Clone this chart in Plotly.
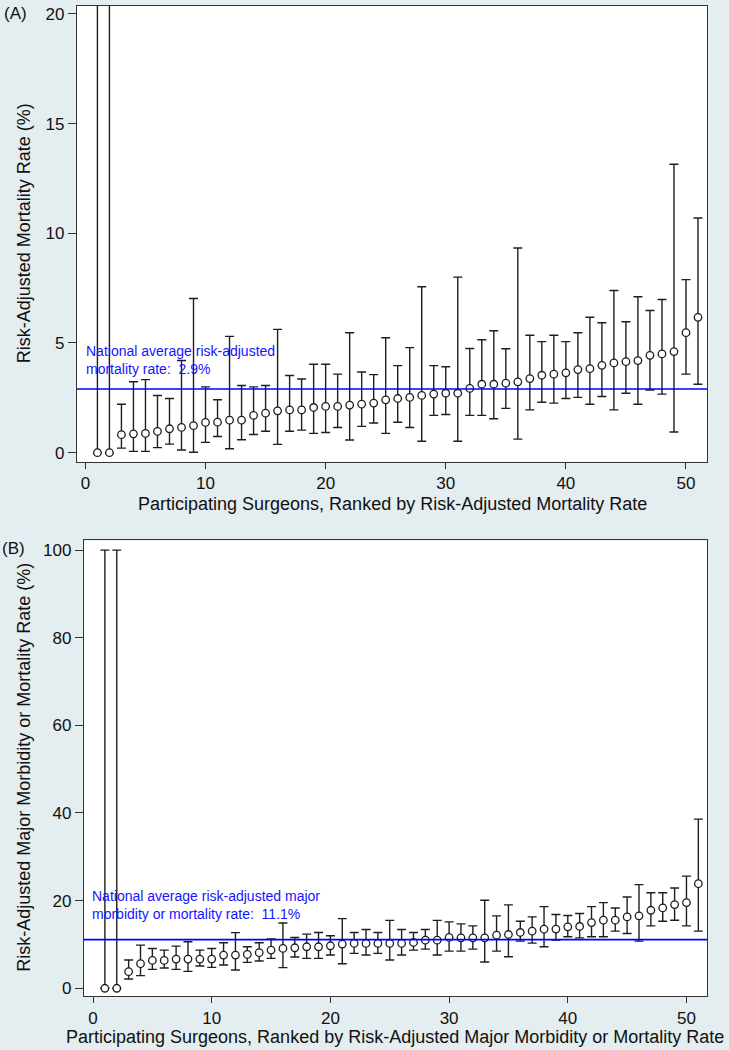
import plotly.graph_objects as go

# ---------------- data ----------------
surgeon_rank = list(range(1, 52))

mort_rate = [0, 0, 0.82, 0.86, 0.88, 0.97, 1.09, 1.15, 1.23, 1.38, 1.39, 1.48, 1.48, 1.70, 1.80,
             1.91, 1.95, 1.95, 2.06, 2.11, 2.11, 2.17, 2.21, 2.26, 2.41, 2.47, 2.52, 2.61, 2.67, 2.71,
             2.71, 2.93, 3.12, 3.12, 3.17, 3.23, 3.38, 3.53, 3.58, 3.64, 3.79, 3.83, 3.98, 4.09, 4.15,
             4.20, 4.44, 4.50, 4.61, 5.47, 6.17]
mort_upper = [100, 100, 2.21, 3.23, 3.33, 2.61, 2.47, 4.20, 7.03, 3.00, 2.41, 5.30, 3.06, 3.00, 3.06,
              5.62, 3.52, 3.36, 4.03, 4.03, 3.58, 5.47, 3.68, 3.56, 5.24, 3.97, 4.79, 7.56, 3.97, 3.92,
              8.00, 4.75, 5.15, 5.56, 4.74, 9.33, 5.35, 5.06, 5.35, 5.06, 5.47, 6.17, 5.92, 7.39, 5.97,
              7.11, 6.48, 6.98, 13.15, 7.89, 10.70]
mort_lower = [0, 0, 0.21, 0.06, 0.06, 0.23, 0.39, 0.12, 0.02, 0.47, 0.74, 0.18, 0.59, 0.83, 0.98,
              0.38, 0.98, 1.03, 0.88, 0.92, 1.15, 0.58, 1.20, 1.35, 0.88, 1.39, 1.15, 0.52, 1.70, 1.74,
              0.52, 1.70, 1.70, 1.55, 2.02, 0.62, 1.95, 2.30, 2.26, 2.47, 2.52, 2.21, 2.56, 1.95, 2.71,
              2.21, 2.86, 2.67, 0.94, 3.58, 3.12]
mort_national = 2.9

morb_rate = [0, 0, 3.79, 5.60, 6.36, 6.36, 6.67, 6.67, 6.67, 6.67, 7.58, 7.58, 7.73, 8.11, 8.71,
             9.09, 9.24, 9.47, 9.47, 9.70, 10.08, 10.23, 10.23, 10.23, 10.23, 10.23, 10.45, 10.98, 10.98, 11.59,
             11.50, 11.52, 11.52, 12.12, 12.27, 12.73, 13.03, 13.48, 13.50, 14.02, 14.10, 15.00, 15.53, 15.53, 16.29,
             16.52, 17.80, 18.33, 19.09, 19.55, 23.86]
morb_upper = [100, 100, 6.44, 9.85, 9.09, 8.71, 9.62, 10.60, 8.71, 9.09, 10.38, 12.70, 9.47, 10.38, 11.25,
              14.90, 11.59, 12.35, 12.73, 11.97, 15.90, 12.73, 13.40, 12.73, 15.50, 13.40, 12.73, 13.40, 15.50, 15.15,
              14.70, 14.24, 20.08, 16.52, 19.02, 15.30, 16.29, 18.64, 16.82, 16.59, 17.05, 18.64, 19.55, 18.33, 20.83,
              23.64, 21.80, 21.80, 22.88, 25.60, 38.60]
morb_lower = [0, 0, 2.12, 2.88, 4.32, 4.62, 4.32, 3.86, 5.08, 4.77, 5.30, 4.17, 5.91, 6.21, 6.82,
              4.70, 7.12, 6.82, 6.82, 7.58, 5.60, 7.95, 7.58, 7.95, 6.44, 7.58, 8.71, 8.94, 7.58, 8.48,
              8.48, 8.94, 5.98, 8.48, 7.20, 10.76, 10.30, 9.47, 10.98, 11.74, 11.50, 11.74, 11.74, 13.03, 12.50,
              10.76, 14.24, 15.30, 15.53, 14.24, 13.03]
morb_national = 11.1

x_ticks = [0, 10, 20, 30, 40, 50]
yA_ticks = [0, 5, 10, 15, 20]
yB_ticks = [0, 20, 40, 60, 80, 100]

# ---------------- styling ----------------
W, H = 729, 1050
BG = "#E4EDEF"
INK = "#1E1E1E"
AX = "#333333"
FONT = "Liberation Sans, Arial, Helvetica, sans-serif"


def py(p):
    return 1 - p / H


def px(p):
    return p / W


def panel_trace(rate, upper, lower, xa, ya):
    return go.Scatter(
        x=surgeon_rank, y=rate, mode="markers", xaxis=xa, yaxis=ya,
        marker=dict(symbol="circle", size=7.5, color="white", line=dict(color=INK, width=1.3)),
        error_y=dict(type="data", symmetric=False,
                     array=[u - r for u, r in zip(upper, rate)],
                     arrayminus=[r - l for r, l in zip(rate, lower)],
                     color=INK, thickness=1.4, width=4.5),
        showlegend=False, hoverinfo="skip",
    )


fig = go.Figure()
fig.add_trace(panel_trace(mort_rate, mort_upper, mort_lower, "x", "y"))
fig.add_trace(panel_trace(morb_rate, morb_upper, morb_lower, "x2", "y2"))

axis_common = dict(showgrid=False, zeroline=False, showline=True, mirror=True,
                   linecolor=AX, linewidth=1.4, ticks="outside", tickcolor=AX,
                   tickwidth=1.2, tickfont=dict(family=FONT, size=17, color="#111111"))

fig.update_layout(
    width=W, height=H,
    margin=dict(l=0, r=0, t=0, b=0),
    paper_bgcolor=BG, plot_bgcolor="white",
    font=dict(family=FONT, color="#111111"),
    xaxis=dict(domain=[px(77), px(707)], range=[-0.7, 51.75], tickvals=x_ticks,
               ticklen=6, anchor="y", **axis_common),
    yaxis=dict(domain=[py(462), py(5)], range=[-0.41, 20.36], tickvals=yA_ticks,
               ticklen=8, anchor="x", **axis_common),
    xaxis2=dict(domain=[px(84), px(707)], range=[-0.76, 51.73], tickvals=x_ticks,
                ticklen=6, anchor="y2", **axis_common),
    yaxis2=dict(domain=[py(998), py(541)], range=[-1.8, 102.2], tickvals=yB_ticks,
                ticklen=8, anchor="x2", **axis_common),
)

# national average lines
fig.add_shape(type="line", xref="x domain", yref="y", x0=0, x1=1, y0=mort_national, y1=mort_national,
              line=dict(color="#0000FF", width=1.6))
fig.add_shape(type="line", xref="x2 domain", yref="y2", x0=0, x1=1, y0=morb_national, y1=morb_national,
              line=dict(color="#0000FF", width=1.6))

blue_font = dict(family=FONT, size=14, color="#1414FF")
fig.add_annotation(xref="x", yref="y", x=-0.1, y=4.23, xanchor="left", yanchor="middle", align="left",
                   showarrow=False, font=blue_font,
                   text="National average risk-adjusted<br>mortality rate:  " + f"{mort_national}%")
fig.add_annotation(xref="x2", yref="y2", x=-0.25, y=19.1, xanchor="left", yanchor="middle", align="left",
                   showarrow=False, font=blue_font,
                   text="National average risk-adjusted major<br>morbidity or mortality rate:  " + f"{morb_national}%")

title_font = dict(family=FONT, size=18, color="#111111")
# axis titles
fig.add_annotation(xref="paper", yref="paper", x=px(392), y=py(504), xanchor="center", yanchor="middle",
                   showarrow=False, font=title_font,
                   text="Participating Surgeons, Ranked by Risk-Adjusted Mortality Rate")
fig.add_annotation(xref="paper", yref="paper", x=px(24), y=py(233), xanchor="center", yanchor="middle",
                   showarrow=False, font=title_font, textangle=-90,
                   text="Risk-Adjusted Mortality Rate (%)")
fig.add_annotation(xref="paper", yref="paper", x=px(395), y=py(1039), xanchor="center", yanchor="middle",
                   showarrow=False, font=title_font,
                   text="Participating Surgeons, Ranked by Risk-Adjusted Major Morbidity or Mortality Rate")
fig.add_annotation(xref="paper", yref="paper", x=px(24), y=py(769), xanchor="center", yanchor="middle",
                   showarrow=False, font=title_font, textangle=-90,
                   text="Risk-Adjusted Major Morbidity or Mortality Rate (%)")
# panel labels
fig.add_annotation(xref="paper", yref="paper", x=px(2), y=py(13), xanchor="left", yanchor="middle",
                   showarrow=False, font=dict(family=FONT, size=17, color="#111111"), text="(A)")
fig.add_annotation(xref="paper", yref="paper", x=px(0), y=py(549), xanchor="left", yanchor="middle",
                   showarrow=False, font=dict(family=FONT, size=17, color="#111111"), text="(B)")

fig.write_html("out.html", config={"displayModeBar": False},
               post_script="document.body.style.margin='0';document.body.style.overflow='hidden';")
